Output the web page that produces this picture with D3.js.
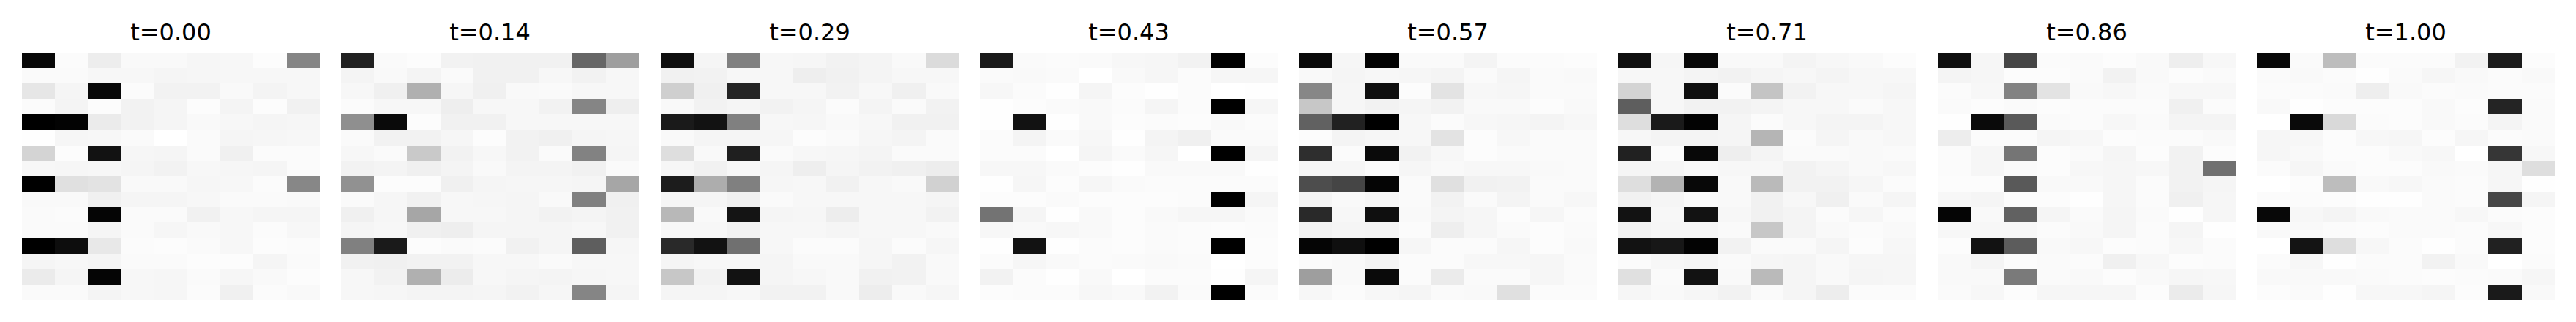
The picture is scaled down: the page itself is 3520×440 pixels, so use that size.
<!DOCTYPE html>
<html>
<head>
<meta charset="utf-8">
<script src="https://cdn.jsdelivr.net/npm/d3@7/dist/d3.min.js"></script>
<style>
html,body{margin:0;padding:0;background:#fff;}
svg{display:block;}
</style>
</head>
<body>
<div id="chart"></div>
<script>
// Cell values: ink level in percent (0 = white, 100 = black), row by row.
const titles = ["t=0.00","t=0.14","t=0.29","t=0.43","t=0.57","t=0.71","t=0.86","t=1.00"];
const columns = d3.range(9);
const rows = d3.range(16);

const t000 = [
[97,1.5,7,2.5,2.5,3.5,3,1,48],
[2,2,3,3,4,3.5,3,3,3],
[10,4,97,1.5,5,5,2.5,4.5,3],
[1.5,4.5,1,5,4,1,4.5,1,5.5],
[100,99,8,5,4,2.5,3,4,3.5],
[0.5,3.5,3,2,0,2,4,3.5,3],
[17,1,93,3.5,4,2,6,1.5,1.5],
[3,3.5,3,4,5,3,3.5,4,1.5],
[100,12,11,2.5,2.5,3.5,3,1.5,47],
[2.5,2.5,6,4,4,3,2,2,2.5],
[2,1.5,98,2,2,5.5,3,4,4],
[2,2,4,2,3.5,2.5,3,1.5,3],
[100,95,9,1.5,1,2,3,1,1.5],
[4,3,4,2,2,1,1,4,2],
[8,4,98,3,3.5,2,3.5,2.5,1],
[2,2,4.5,3,3.5,1.5,6,1.5,2.5]];

const t014 = [
[87,2,1,5,5.5,5.5,5.5,60,38],
[4.5,2.5,4.5,2,5.5,5.5,3,5,3],
[3,6,31,3.5,6,2.5,2,3,3],
[1.5,3,3,6.5,3,3,5,48,6.5],
[44,96,1,5.5,5.5,3,3,3,3],
[2,5,5,3.5,1,5,6,4,3.5],
[3,2,21,5,3,5,2,49,4],
[5,4.5,6,4.5,2.5,4.5,4.5,5.5,2],
[43,1,1,6,4,3.5,3.5,4,35],
[2,3.5,5.5,3,3.5,4,2.5,50,6],
[6,3.5,35,3,3,4,5,4.5,5.5],
[4,3,6,6.5,4,4,4,3,5.5],
[50,90,1,2,1.5,5.5,4,63,3.5],
[5.5,6,5,5,3,3,2,3,3],
[3,5,31,7.5,3,4,4.5,3.5,3],
[3,3.5,4.5,4.5,4,5,3.5,48,4]];

const t029 = [
[94,4,50,3,3.5,5,4.5,2.5,14],
[5.5,5,3,3,6.5,5.5,4.5,3,3],
[19,6,86,3,3,5,3,6,2.5],
[2.5,5,4,5,4,1.5,4.5,2,5],
[90,93,50,3,3.5,2.5,3,5.5,5.5],
[2.5,4,4,3.5,1,2,3.5,4.5,2],
[13,2.5,88,2,3,3.5,4.5,2,2],
[3.5,5.5,3,4,6.5,4,5,6,7],
[89,32,50,3.5,3,5.5,3,2.5,18],
[4,4,6,2,3,3,3,3,4],
[28,2.5,92,4,3.5,7,3,3,5],
[3,3,5,3,3,4,3,3,2.5],
[84,93,56,3,1.5,1.5,3.5,1.5,3.5],
[4,3,3,4,2.5,2.5,3.5,5,2.5],
[22,5,93,4,3,2.5,5.5,5,2.5],
[4,4,3,5,5,2.5,7,2.5,3.5]];

const t043 = [
[90,2,1.5,2,3,3.5,5,100,1],
[2,2.5,2,0,2.5,3.5,1.5,3.5,3.5],
[3,1.5,0.5,4,1,0.5,1.5,0,0.5],
[0.5,1,2,2.5,1.5,4,1.5,100,3.5],
[0.5,93,0.5,2.5,1,1.5,1,2.5,1.5],
[1.5,4.5,2,3,0.5,4.5,6,2,2],
[1.5,1.5,0,4,2,3.5,0,100,4],
[3,3,2,1,0.5,2.5,2.5,2.5,0.5],
[0.5,3.5,1,3.5,2,1.5,1.5,1.5,1.5],
[1,1,2,1,1,1,1.5,100,4],
[55,4,0.5,2.5,1,2.5,3.5,3.5,2],
[3,2.5,3,2.5,1,2,1.5,1,1.5],
[0.5,93,0.5,1.5,1,2,1.5,100,1],
[1.5,3.5,2.5,1.5,2,2.5,2,0,1],
[5,1.5,0.5,2.5,0,1.5,1.5,0.5,4],
[1,1.5,1.5,3,2.5,5,2,100,1.5]];

const t057 = [
[96,3.5,99,2,2,4.5,1.5,1.5,1],
[2.5,4,3,3.5,4.5,2,4,2,2.5],
[47,3.5,94,1,11,3,3.5,2,2],
[22,3.5,5,4,5,2.5,2.5,1,2.5],
[62,87,100,3,1.5,3,3.5,4.5,3],
[1,4.5,3.5,3,11,1,3,2,2],
[82,1.5,96,5,3,1,2,2,2],
[3.5,3.5,1.5,3.5,2.5,3,3,2.5,2],
[70,73,98,2,12,5.5,5,2,2],
[4.5,2.5,3.5,2,5,2,4.5,2,3],
[84,3,94,2.5,4.5,3.5,1,3.5,1.5],
[5,4,4.5,1.5,6.5,3.5,2,1,2],
[98,94,100,3.5,1.5,1.5,3.5,1,2.5],
[1.5,2.5,4.5,1.5,1.5,3,3,3.5,2],
[38,2.5,96,1.5,8,2,2,3.5,2],
[3,1.5,3,4,2,2.5,12,1.5,1.5]];

const t071 = [
[94,3.5,97,2.5,2.5,4.5,3,2.5,1],
[3,3,4.5,5,4,3,4.5,3,3],
[17,3,94,1.5,23,5,3,3,4],
[63,3,5,5,4.5,3,3,2,3],
[13,90,99,4,1.5,3,4.5,4.5,3],
[3,4.5,4.5,4,29,1.5,4,2.5,3],
[87,1.5,97,6.5,4.5,2,2,2.5,2],
[4,3.5,2.5,3,3,5,4,2.5,3],
[13,30,97,2.5,27,5,5,3.5,1.5],
[5.5,4,2,2.5,5.5,3,6,2,4],
[93,3,93,3,5.5,4.5,1.5,3.5,1.5],
[5,3.5,3.5,2,22,4.5,2.5,1.5,2.5],
[93,91,99,5,2,2,4,1,3],
[1.5,3,4,2,3.5,4,2.5,3.5,3.5],
[12,2,93,2.5,27,4,2.5,4,3.5],
[3.5,2.5,3.5,5,2,4,7,1.5,1.5]];

const t086 = [
[94,3.5,73,1.5,2,1,2.5,6.5,3],
[4.5,3.5,1,1,2,5,2.5,1,2],
[1.5,3,49,11,2.5,3,2,3,3],
[2,1,2,1,1.5,1.5,1.5,6,1.5],
[0.5,96,65,2,1.5,3,2,4.5,4.5],
[7,1.5,1.5,4,3,1,1.5,1.5,2.5],
[1.5,3.5,54,1,2,4,1,5,1],
[1.5,3.5,2,1,3,3.5,3,5,56],
[1,1,65,2.5,2.5,3.5,1.5,5,4],
[3,4,1,1,0.5,3.5,1.5,6,3.5],
[98,2.5,62,4,2,4,2,0.5,3.5],
[3,3,3,1.5,2.5,4,1.5,4,0.5],
[1,93,64,2.5,3,1,1.5,3,1.5],
[2.5,4,1,2,1.5,6,3,1,1.5],
[2.5,2.5,52,2,2.5,1,2.5,3.5,3],
[2,3,1,3.5,3.5,3.5,1,8,3.5]];

const t100 = [
[97,2,26,1.5,1.5,1.5,5,89,1],
[2,2.5,1.5,0.5,2,3.5,2.5,1.5,2.5],
[1.5,1.5,2,6.5,2.5,1.5,2,1.5,1.5],
[2.5,0.5,1,1,1,2.5,1,86,2],
[0,96,15,1.5,1,2.5,1.5,4.5,2],
[3.5,3,1,3,3.5,1,3.5,1.5,2],
[3.5,2.5,1,1,2.5,3,0,79,3],
[1.5,3.5,2,1,1,2.5,2,3.5,13],
[0,1,26,2.5,3,2,1.5,3.5,0.5],
[1.5,1.5,1,0.5,0.5,2,1.5,72,4],
[97,3,4.5,2.5,2,2,3,1.5,1],
[2.5,2.5,1.5,1,2,2,1.5,3,1],
[0,92,13,3,1.5,0.5,1.5,87,1],
[1.5,3,0.5,1.5,1.5,5,2.5,0,1.5],
[2.5,2.5,2.5,2,1.5,1,1.5,2,3.5],
[1,2,0.5,3,3,4,1,90,2.5]];

const panels = [t000,t014,t029,t043,t057,t071,t086,t100];

const WIDTH = 3520, HEIGHT = 440, PANEL_W = 407, TOP = 73, BOTTOM = 410;

const panelX = d3.scaleLinear().domain([0, titles.length - 1]).range([30, 3084]);
const cellX = d3.scaleLinear().domain([0, columns.length]).range([0, 406.8]);
const cellY = d3.scaleLinear().domain([0, rows.length]).range([72, 409.92]);
const ink = d3.scaleLinear().domain([0, 100]).range(["#ffffff", "#000000"]);

const xEdge = i => Math.round(cellX(i));
const yEdge = i => Math.max(TOP, Math.round(cellY(i)));

const svg = d3.select("#chart").append("svg")
  .attr("width", WIDTH).attr("height", HEIGHT)
  .attr("viewBox", `0 0 ${WIDTH} ${HEIGHT}`);

const groups = svg.selectAll("g.panel").data(panels).join("g")
  .attr("class", "panel")
  .attr("transform", (d, i) => `translate(${Math.round(panelX(i))},0)`);

groups.append("text")
  .attr("x", PANEL_W / 2)
  .attr("y", 55)
  .attr("text-anchor", "middle")
  .attr("font-family", "'DejaVu Sans', sans-serif")
  .attr("font-size", 32)
  .attr("fill", "#000")
  .text((d, i) => titles[i]);

groups.selectAll("g.row").data(d => d).join("g")
  .attr("class", "row")
  .each(function (rowValues, r) {
    d3.select(this).selectAll("rect").data(rowValues).join("rect")
      .attr("x", (v, c) => xEdge(c))
      .attr("y", yEdge(r))
      .attr("width", (v, c) => xEdge(c + 1) - xEdge(c))
      .attr("height", yEdge(r + 1) - yEdge(r))
      .attr("shape-rendering", "crispEdges")
      .attr("fill", v => ink(v));
  });
</script>
</body>
</html>
